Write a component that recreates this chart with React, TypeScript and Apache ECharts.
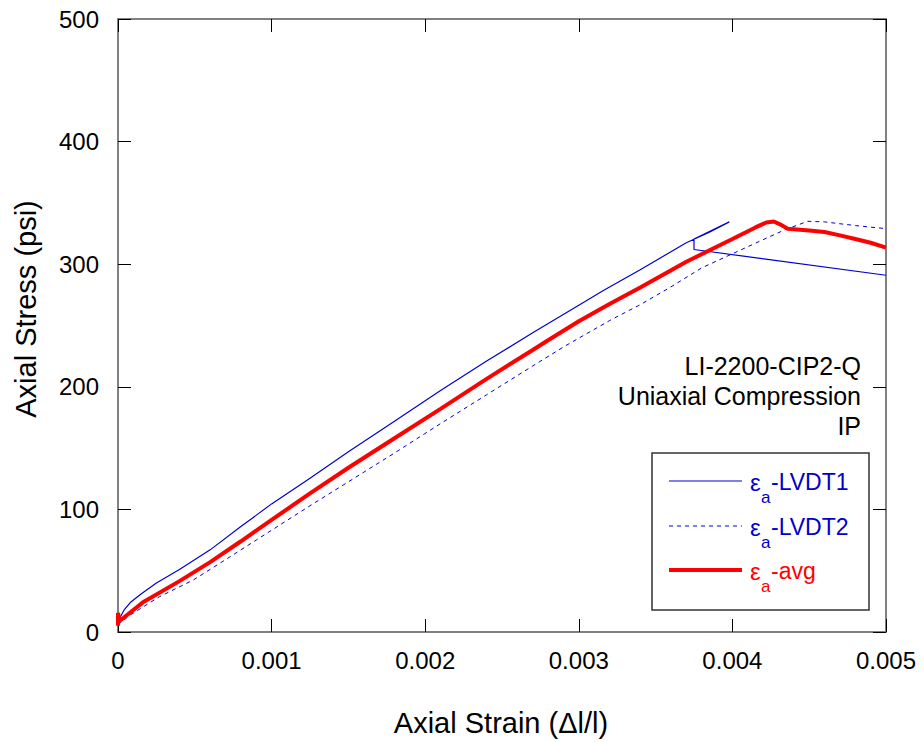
import React, { useEffect, useRef } from "react";
import * as echarts from "echarts";

const X_TICKS = [0, 0.001, 0.002, 0.003, 0.004, 0.005];
const Y_TICKS = [0, 100, 200, 300, 400, 500];

const SERIES_NAMES = ["-LVDT1", "-LVDT2", "-avg"];
const ANNOTATION = ["LI-2200-CIP2-Q", "Uniaxial Compression", "IP"];
const X_TITLE = "Axial Strain (\u0394l/l)";
const Y_TITLE = "Axial Stress (psi)";

const LVDT1: [number, number][] = [
  [0, 9], [0.00004, 18], [0.00008, 24], [0.00015, 31], [0.00025, 40], [0.0004, 51],
  [0.0006, 67], [0.0008, 86], [0.001, 104.5], [0.00125, 125.5], [0.0015, 147],
  [0.0018, 172], [0.0021, 197], [0.0024, 221], [0.0027, 244],
  [0.003, 266.5], [0.00316, 278.5], [0.0034, 295.5], [0.0037, 317.5], [0.00385, 326],
  [0.00398, 334.5], [0.00375, 320.5], [0.00375, 312], [0.005, 291],
];

const LVDT2: [number, number][] = [
  [0, 6], [0.00008, 13.9], [0.00027, 28.8], [0.00049, 42.4], [0.0007, 59],
  [0.0009, 75], [0.001, 83], [0.00125, 103], [0.0015, 122.5], [0.0018, 146],
  [0.0021, 170], [0.0024, 193.5], [0.0027, 217], [0.0029, 232.5], [0.0032, 254],
  [0.0034, 267], [0.0036, 281.5], [0.0038, 297], [0.004, 308.5], [0.0042, 320],
  [0.00434, 328], [0.00449, 335], [0.0046, 334.5], [0.0048, 331.5], [0.005, 329],
];

const AVG: [number, number][] = [
  [0, 5], [0, 15.5], [0.00001, 9], [0.00016, 24], [0.0004, 41.5], [0.0006, 57],
  [0.0008, 74], [0.001, 91.5], [0.00125, 113], [0.0015, 134], [0.0018, 158],
  [0.0021, 182], [0.0024, 206.5], [0.0027, 230], [0.0028, 238], [0.003, 253.5],
  [0.0032, 267.5], [0.0034, 281], [0.0037, 302], [0.004, 320.5], [0.00415, 330],
  [0.00422, 334], [0.00427, 334.8], [0.00431, 332.5], [0.00436, 329], [0.0045, 327.5],
  [0.0046, 326.3], [0.0047, 323.5], [0.0048, 320.5], [0.0049, 317.5], [0.005, 313.5],
];

const FONT = "'Liberation Sans', Arial, Helvetica, sans-serif";
const BLUE = "#0000CC";
const RED = "#FF0000";

export default function App() {
  const ref = useRef<HTMLDivElement>(null);

  useEffect(() => {
    document.body.style.margin = "0";
    if (!ref.current) return;
    const chart = echarts.init(ref.current, undefined, { renderer: "svg" });

    const axisLine = { show: true, onZero: false, lineStyle: { color: "#808080", width: 2 } };
    const axisTick = { show: true, inside: true, length: 13, lineStyle: { color: "#000", width: 1 } };
    const xMin = X_TICKS[0];
    const xMax = X_TICKS[X_TICKS.length - 1];
    const xInt = X_TICKS[1] - X_TICKS[0];
    const yMin = Y_TICKS[0];
    const yMax = Y_TICKS[Y_TICKS.length - 1];
    const yInt = Y_TICKS[1] - Y_TICKS[0];

    const legendRows = [
      { y: 482, color: BLUE, name: SERIES_NAMES[0], line: { stroke: BLUE, lineWidth: 1.2 } },
      { y: 527, color: BLUE, name: SERIES_NAMES[1], line: { stroke: BLUE, lineWidth: 1, lineDash: [4, 4] } },
      { y: 571, color: RED, name: SERIES_NAMES[2], line: { stroke: RED, lineWidth: 4 } },
    ];

    const graphic: any[] = [
      {
        type: "text", x: 501, y: 723,
        style: { text: X_TITLE, align: "center", verticalAlign: "middle", fontSize: 29, fontFamily: FONT, fill: "#000" },
      },
      {
        type: "text", x: 26, y: 309, rotation: Math.PI / 2,
        style: { text: Y_TITLE, align: "center", verticalAlign: "middle", fontSize: 29, fontFamily: FONT, fill: "#000" },
      },
      ...ANNOTATION.map((t, i) => ({
        type: "text", x: 861, y: 366 + i * 30,
        style: { text: t, align: "right", verticalAlign: "middle", fontSize: 25, fontFamily: FONT, fill: "#000" },
      })),
      {
        type: "rect", shape: { x: 652, y: 453, width: 217, height: 157 },
        style: { fill: "#fff", stroke: "#333", lineWidth: 1.5 }, z: 10,
      },
    ];
    legendRows.forEach((r) => {
      graphic.push({
        type: "line", shape: { x1: 669, y1: r.y - 1, x2: 742, y2: r.y - 1 },
        style: { ...r.line }, z: 11,
      });
      graphic.push({
        type: "text", x: 750, y: r.y,
        style: { text: "\u03b5", align: "left", verticalAlign: "middle", fontSize: 24, fontFamily: FONT, fill: r.color }, z: 11,
      });
      graphic.push({
        type: "text", x: 761, y: r.y + 15,
        style: { text: "a", align: "left", verticalAlign: "middle", fontSize: 17, fontFamily: FONT, fill: r.color }, z: 11,
      });
      graphic.push({
        type: "text", x: 771, y: r.y,
        style: { text: r.name, align: "left", verticalAlign: "middle", fontSize: 23, fontFamily: FONT, fill: r.color }, z: 11,
      });
    });

    chart.setOption({
      animation: false,
      backgroundColor: "#fff",
      textStyle: { fontFamily: FONT },
      grid: { left: 118, right: 38, top: 19, bottom: 110, containLabel: false, outerBoundsMode: "none" },
      xAxis: [
        {
          type: "value", min: xMin, max: xMax, interval: xInt, position: "bottom",
          axisLine, axisTick,
          axisLabel: { margin: 16, fontSize: 24, color: "#000", fontFamily: FONT, showMinLabel: true, showMaxLabel: true },
          splitLine: { show: false },
        },
        {
          type: "value", min: xMin, max: xMax, interval: xInt, position: "top",
          axisLine, axisTick, axisLabel: { show: false }, splitLine: { show: false },
        },
      ],
      yAxis: [
        {
          type: "value", min: yMin, max: yMax, interval: yInt, position: "left",
          axisLine, axisTick,
          axisLabel: { margin: 19, fontSize: 24, color: "#000", fontFamily: FONT },
          splitLine: { show: false },
        },
        {
          type: "value", min: yMin, max: yMax, interval: yInt, position: "right",
          axisLine, axisTick, axisLabel: { show: false }, splitLine: { show: false },
        },
      ],
      series: [
        {
          name: "LVDT1", type: "line", data: LVDT1, showSymbol: false, symbol: "none", clip: true,
          lineStyle: { color: BLUE, width: 1.2 }, z: 2,
        },
        {
          name: "LVDT2", type: "line", data: LVDT2, showSymbol: false, symbol: "none", clip: true,
          lineStyle: { color: BLUE, width: 1, type: [4, 4] }, z: 2,
        },
        {
          name: "avg", type: "line", data: AVG, showSymbol: false, symbol: "none", clip: true,
          lineStyle: { color: RED, width: 4 }, z: 3,
        },
      ],
      graphic,
    });

    return () => chart.dispose();
  }, []);

  return <div ref={ref} style={{ width: 924, height: 742 }} />;
}
